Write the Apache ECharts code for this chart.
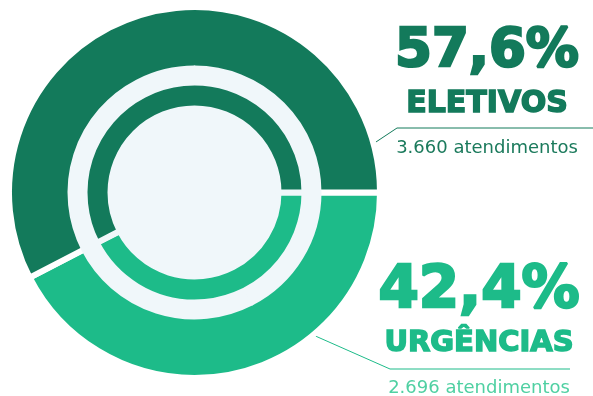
<!DOCTYPE html>
<html>
<head>
<meta charset="utf-8">
<script src="https://cdn.jsdelivr.net/npm/echarts@6/dist/echarts.min.js"></script>
<style>
  html, body { margin: 0; background: #fff; }
  #chart { width: 593px; height: 396px; }
</style>
</head>
<body>
<div id="chart"></div>
<script>
// dados
const categories = ['URGÊNCIAS', 'ELETIVOS']
const atendimentos = [2696, 3660]
const sliceColors = ['#1dbb89', '#137a5b']
const countColors = ['#4fd0a2', '#1b7a5c']

const total = atendimentos.reduce((a, b) => a + b, 0)
const pct = v => (v / total * 100).toFixed(1).replace('.', ',') + '%'
const fmtNum = v => String(v).replace(/\B(?=(\d{3})+(?!\d))/g, '.')

// geometria
const cx = 194.5
const cy = 192.5
const bgColor = '#f0f7fa'

// posição dos textos e das linhas-guia
const labelPos = [
  { x: 479, y: 262, pctSize: 58, nameSize: 29, lh: [60, 43, 46], anchorDeg: 50.6, elbow: [390, 369], endX: 570 },
  { x: 487, y: 22.5, pctSize: 53, nameSize: 30, lh: [60, 43, 45], anchorDeg: -15, elbow: [397, 128], endX: 593 },
]

const chart = echarts.init(document.getElementById('chart'))

const data = categories.map((name, i) => ({
  name,
  value: atendimentos[i],
  itemStyle: { color: sliceColors[i] },
  labelLine: { show: true, lineStyle: { color: sliceColors[i], width: 1 } },
  label: {
    show: true,
    formatter: p => `{pct|${pct(p.value)}}\n{name|${p.name}}\n{cnt|${fmtNum(p.value)} atendimentos}`,
    rich: {
      pct: {
        fontFamily: 'DejaVu Sans', fontWeight: 'bold', fontSize: labelPos[i].pctSize, lineHeight: labelPos[i].lh[0],
        color: sliceColors[i], textBorderColor: sliceColors[i], textBorderWidth: 2.5,
      },
      name: {
        fontFamily: 'DejaVu Sans', fontWeight: 'bold', fontSize: labelPos[i].nameSize, lineHeight: labelPos[i].lh[1],
        color: sliceColors[i], textBorderColor: sliceColors[i], textBorderWidth: 1.5,
      },
      cnt: { fontFamily: 'DejaVu Sans', fontSize: 18, lineHeight: labelPos[i].lh[2], color: countColors[i] },
    },
  },
}))

const option = {
  animation: false,
  series: [
    {
      // anel externo
      type: 'pie',
      z: 1,
      center: [cx, cy],
      radius: [110, 185.5],
      startAngle: 0,
      clockwise: true,
      avoidLabelOverlap: false,
      silent: true,
      itemStyle: { borderColor: '#fff', borderWidth: 6 },
      label: { position: 'outside', align: 'center' },
      labelLayout: (params) => {
        const lp = labelPos[params.dataIndex]
        const a = lp.anchorDeg * Math.PI / 180
        const start = [cx + 183 * Math.cos(a), cy + 183 * Math.sin(a)]
        return {
          x: lp.x,
          y: lp.y,
          align: 'center',
          verticalAlign: 'top',
          labelLinePoints: [start, lp.elbow, [lp.endX, lp.elbow[1]]],
        }
      },
      data,
    },
    {
      // fundo claro
      type: 'pie',
      z: 2,
      center: [cx, cy],
      radius: [0, 126],
      silent: true,
      label: { show: false },
      labelLine: { show: false },
      itemStyle: { color: bgColor, borderColor: bgColor, borderWidth: 2 },
      data: atendimentos.map(v => ({ value: v })),
    },
    {
      // anel interno
      type: 'pie',
      z: 3,
      center: [cx, cy],
      radius: [84, 110],
      startAngle: 0,
      clockwise: true,
      silent: true,
      label: { show: false },
      labelLine: { show: false },
      itemStyle: { borderColor: bgColor, borderWidth: 6 },
      data: atendimentos.map((v, i) => ({ value: v, itemStyle: { color: sliceColors[i] } })),
    },
  ],
}

chart.setOption(option)
window.addEventListener('resize', () => chart.resize())
</script>
</body>
</html>
